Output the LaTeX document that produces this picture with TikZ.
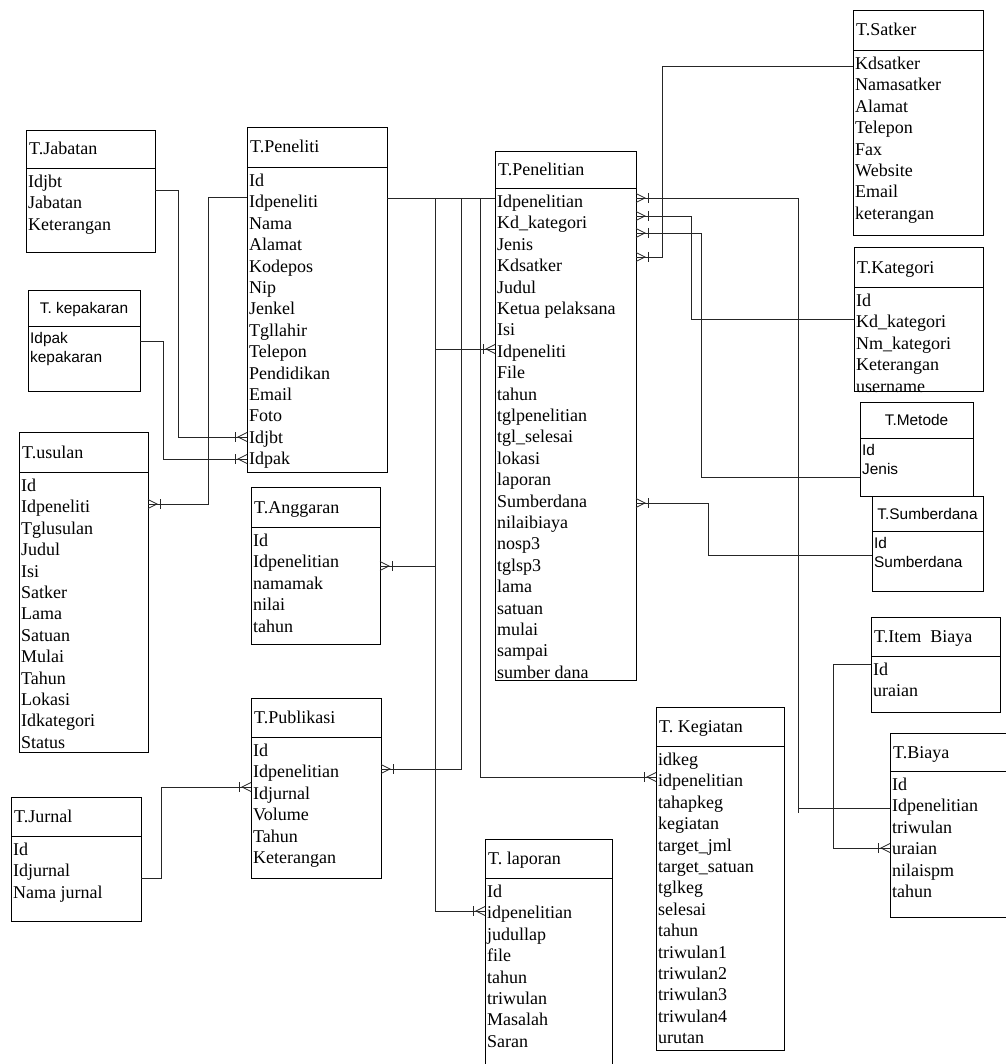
\documentclass[tikz,border=0pt]{standalone}
\usepackage{fontspec}
\setmainfont{Liberation Serif}
\setsansfont{Liberation Sans}
\newcommand\serfont{\fontsize{18}{21.4}\selectfont}
\newcommand\sanfont{\sffamily\fontsize{15.4}{19.5}\selectfont}

\tikzset{
  tbl/.style={rectangle, draw=black, line width=0.8pt, inner sep=0pt, outer sep=0pt},
  hdrline/.style={draw=black, line width=0.8pt},
  conn/.style={draw=black!85, line width=0.8pt},
  sttl/.style={anchor=base west, inner sep=0pt, font=\serfont},
  sfld/.style={anchor=base west, inner sep=0pt, font=\serfont},
  attl/.style={anchor=base, inner sep=0pt, font=\sanfont},
  afld/.style={anchor=base west, inner sep=0pt, font=\sanfont},
  % crow's foot with a bar: "one or many" end of a relation
  manyR/.pic={\draw[conn] (0,-4.5) -- (9,0) -- (0,4.5); \draw[conn] (12,-5) -- (12,5);},
  manyL/.pic={\draw[conn] (0,-4.5) -- (-9,0) -- (0,4.5); \draw[conn] (-12,-5) -- (-12,5);},
}

% table with a serif title and serif fields
% #1 name, #2 left, #3 top, #4 right, #5 bottom, #6 header line, #7 title, #8 fields
\newcommand\erbox[8]{%
  \node[tbl, minimum width={#4-#2}, minimum height={#5-#3}] (#1) at ({(#2+#4)/2},{(#3+#5)/2}) {};
  \draw[hdrline] (#1.west |- 0,#6) -- (#1.east |- 0,#6);
  \node[sttl] (#1-title) at (#2+3,{(#3+#6)/2+6}) {#7};
  \foreach \f [count=\i from 0] in {#8} {\node[sfld] (#1-\i) at (#2+2,{#6+19.5+\i*21.4}) {\f};}
}
% same, set in a sans face with a centred title
\newcommand\erboxs[8]{%
  \node[tbl, minimum width={#4-#2}, minimum height={#5-#3}] (#1) at ({(#2+#4)/2},{(#3+#5)/2}) {};
  \draw[hdrline] (#1.west |- 0,#6) -- (#1.east |- 0,#6);
  \node[attl] (#1-title) at ({(#2+#4)/2},{(#3+#6)/2+5.5}) {#7};
  \foreach \f [count=\i from 0] in {#8} {\node[afld] (#1-\i) at (#2+2,{#6+17+\i*19.5}) {\f};}
}

\begin{document}
\begin{tikzpicture}[x=1pt, y=-1pt]
\useasboundingbox[fill=white] (0,0) rectangle (1005,1064);

% ---------------- tables ----------------
\erbox{satker}{853}{10}{983}{235}{50}{T.Satker}{Kdsatker,Namasatker,Alamat,Telepon,Fax,Website,Email,keterangan}
\erbox{jabatan}{26}{130}{155}{252}{168}{T.Jabatan}{Idjbt,Jabatan,Keterangan}
\erbox{peneliti}{247}{127}{387}{472}{167}{T.Peneliti}{Id,Idpeneliti,Nama,Alamat,Kodepos,Nip,Jenkel,Tgllahir,Telepon,Pendidikan,Email,Foto,Idjbt,Idpak}
\erbox{penelitian}{495}{151}{636}{680}{188}{T.Penelitian}{Idpenelitian,Kd\_kategori,Jenis,Kdsatker,Judul,Ketua pelaksana,Isi,Idpeneliti,File,tahun,tglpenelitian,tgl\_selesai,lokasi,laporan,Sumberdana,nilaibiaya,nosp3,tglsp3,lama,satuan,mulai,sampai,sumber dana}
\erbox{kategori}{854}{247}{983}{391}{287}{T.Kategori}{Id,Kd\_kategori,Nm\_kategori,Keterangan,username}
\erboxs{kepakaran}{28}{290}{140}{391}{326}{T. kepakaran}{Idpak,kepakaran}
\erboxs{metode}{860}{402}{973}{496}{438}{T.Metode}{Id,Jenis}
\erbox{usulan}{19}{432}{148}{752}{472}{T.usulan}{Id,Idpeneliti,Tglusulan,Judul,Isi,Satker,Lama,Satuan,Mulai,Tahun,Lokasi,Idkategori,Status}
\erbox{anggaran}{251}{487}{380}{644}{527}{T.Anggaran}{Id,Idpenelitian,namamak,nilai,tahun}
\erboxs{sumberdana}{872}{496}{983}{591}{531}{T.Sumberdana}{Id,Sumberdana}
\erbox{itembiaya}{871}{617}{1000}{712}{656}{T.Item~ Biaya}{Id,uraian}
\erbox{publikasi}{251}{698}{381}{878}{737}{T.Publikasi}{Id,Idpenelitian,Idjurnal,Volume,Tahun,Keterangan}
\erbox{kegiatan}{656}{707}{784}{1050}{746}{T. Kegiatan}{idkeg,idpenelitian,tahapkeg,kegiatan,target\_jml,target\_satuan,tglkeg,selesai,tahun,triwulan1,triwulan2,triwulan3,triwulan4,urutan}
\erbox{biaya}{890}{733}{1010}{917}{771}{T.Biaya}{Id,Idpenelitian,triwulan,uraian,nilaispm,tahun}
\erbox{jurnal}{11}{797}{141}{921}{836}{T.Jurnal}{Id,Idjurnal,Nama jurnal}
\erbox{laporan}{485}{839}{612}{1070}{878}{T. laporan}{Id,idpenelitian,judullap,file,tahun,triwulan,Masalah,Saran}

% ---------------- relations ----------------
\draw[conn] (jabatan.east |- 0,190) -| (178,437) -- (peneliti.west |- 0,437);
\pic at (peneliti.west |- 0,437) {manyL};
\draw[conn] (kepakaran.east |- 0,341) -| (163,459) -- (peneliti.west |- 0,459);
\pic at (peneliti.west |- 0,459) {manyL};
\draw[conn] (peneliti.west |- 0,197) -| (208,504) -- (usulan.east |- 0,504);
\pic at (usulan.east |- 0,504) {manyR};

\draw[conn] (peneliti.east |- 0,198) -- (penelitian.west |- 0,198);
\draw[conn] (peneliti.east |- 0,198) -| (435,349) -- (penelitian.west |- 0,349);
\pic at (penelitian.west |- 0,349) {manyL};
\draw[conn] (penelitian.west |- 0,198) -| (435,911) -- (laporan.west |- 0,911);
\pic at (laporan.west |- 0,911) {manyL};
\draw[conn] (penelitian.west |- 0,198) -| (435,566) -- (anggaran.east |- 0,566);
\pic at (anggaran.east |- 0,566) {manyR};
\draw[conn] (penelitian.west |- 0,198) -| (461,769) -- (publikasi.east |- 0,769);
\pic at (publikasi.east |- 0,769) {manyR};
\draw[conn] (penelitian.west |- 0,198) -| (480,777) -- (kegiatan.west |- 0,777);
\pic at (kegiatan.west |- 0,777) {manyL};

\draw[conn] (penelitian.east |- 0,198) -| (798,813) (798,808) -- (biaya.west |- 0,808);
\pic at (penelitian.east |- 0,198) {manyR};
\draw[conn] (penelitian.east |- 0,216) -| (691,319) -- (kategori.west |- 0,319);
\pic at (penelitian.east |- 0,216) {manyR};
\draw[conn] (penelitian.east |- 0,233) -| (701,477) -- (metode.west |- 0,477);
\pic at (penelitian.east |- 0,233) {manyR};
\draw[conn] (penelitian.east |- 0,257) -| (662,66) -- (satker.west |- 0,66);
\pic at (penelitian.east |- 0,257) {manyR};
\draw[conn] (penelitian.east |- 0,503) -| (708,555) -- (sumberdana.west |- 0,555);
\pic at (penelitian.east |- 0,503) {manyR};

\draw[conn] (itembiaya.west |- 0,664) -| (833,848) -- (biaya.west |- 0,848);
\pic at (biaya.west |- 0,848) {manyL};
\draw[conn] (jurnal.east |- 0,878) -| (161,787) -- (publikasi.west |- 0,787);
\pic at (publikasi.west |- 0,787) {manyL};
\end{tikzpicture}
\end{document}
